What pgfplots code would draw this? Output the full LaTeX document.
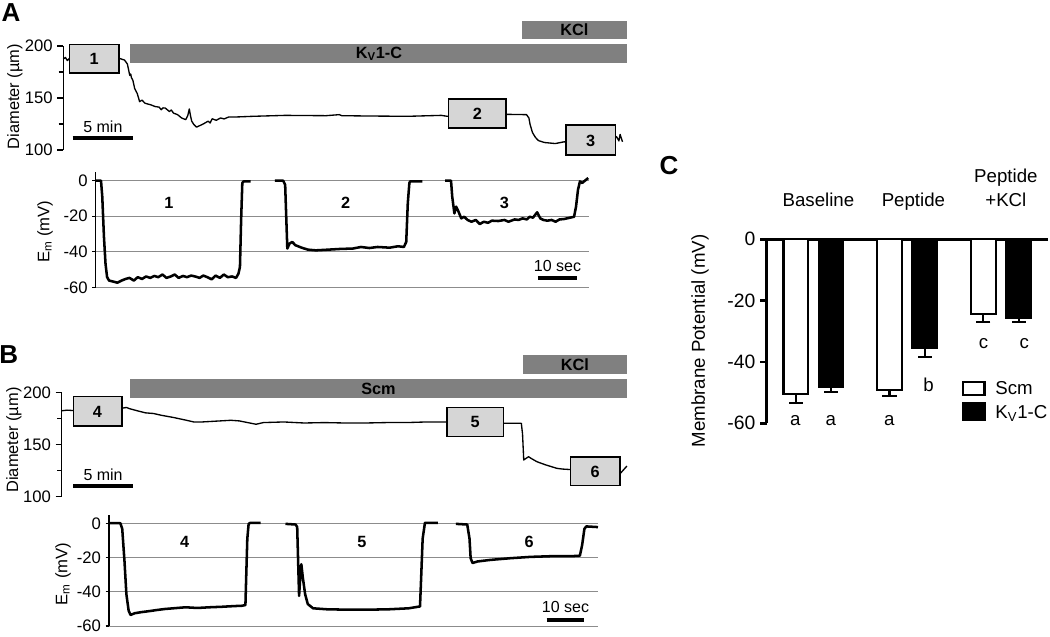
\documentclass[border=0pt]{standalone}
\usepackage{fontspec}
\setmainfont{Liberation Sans}
\usepackage{pgfplots}
\pgfplotsset{compat=1.18}
\definecolor{bargray}{RGB}{128,128,128}
\definecolor{boxgray}{RGB}{214,214,214}
\definecolor{gridgray}{RGB}{140,140,140}
\newcommand{\tickfont}{\fontsize{12.5}{14}\selectfont}
\newcommand{\lblfont}{\fontsize{12.3}{14}\selectfont}
\newcommand{\boxfont}{\fontsize{12.2}{14}\selectfont\bfseries}
\newcommand{\smallfont}{\fontsize{12}{14}\selectfont}
\newcommand{\cfont}{\fontsize{14}{16}\selectfont}
\pgfplotsset{
  diam/.style={
    anchor=south west, scale only axis, clip=false,
    xmin=0, ymin=100, ymax=200,
    axis x line=none, axis y line=left,
    axis line style={-, line width=0.9pt},
    ytick={100,150,200}, yticklabels={100,150,200}, minor ytick={125,175},
    tick align=outside, major tick length=4.5pt, minor tick length=3.5pt,
    tick style={black, line width=0.9pt},
    yticklabel style={font=\tickfont},
  },
  emax/.style={
    anchor=south west, scale only axis, clip=false,
    xmin=0, ymin=-60, ymax=5,
    axis x line=none, axis y line=left,
    axis line style={-, line width=0.8pt},
    ytick={-60,-40,-20,0}, yticklabels={-60,-40,-20,0},
    tick align=outside, major tick length=2.5pt,
    tick style={black, line width=0.8pt},
    ymajorgrids, grid style={gridgray, line width=0.7pt},
    yticklabel style={font=\tickfont},
  },
  dtrace/.style={black, line width=1pt, line join=round},
  etrace/.style={black, line width=1.9pt, line join=round},
}
\begin{document}
\begin{tikzpicture}
\useasboundingbox (0,0) rectangle (787.5pt,-477pt);
% panel letters
\node[font=\fontsize{19.5}{22}\selectfont\bfseries] at (8.25pt,-9.4pt) {A};
\node[font=\fontsize{19.5}{22}\selectfont\bfseries] at (6.6pt,-266.25pt) {B};
\node[font=\fontsize{19.5}{22}\selectfont\bfseries] at (501.75pt,-124.1pt) {C};
% y labels
\node[rotate=90, font=\lblfont] at (11.25pt,-72.4pt) {Diameter (µm)};
\node[rotate=90, font=\lblfont] at (10.5pt,-330pt) {Diameter (µm)};
\node[rotate=90, font=\fontsize{12.5}{14}\selectfont] at (33.75pt,-173.8pt) {E\textsubscript{m} (mV)};
\node[rotate=90, font=\fontsize{12.5}{14}\selectfont] at (47.25pt,-430.5pt) {E\textsubscript{m} (mV)};
\node[rotate=90, font=\cfont] at (525pt,-255.75pt) {Membrane Potential (mV)};

% ---------------- A diameter ----------------
\begin{axis}[diam, at={(47.475pt,-112.5pt)}, width=423pt, height=78pt, xmax=47]
\addplot[dtrace] coordinates {
(0,187.4) (0.17,189) (0.34,186) (0.5,188) (2.5,188) (4.6,188.4) (5.1,186.5) (5.34,182.7)
(5.54,171.7) (5.62,173) (5.68,169.5) (5.8,167) (5.95,159) (6.16,154.4) (6.36,146.5) (6.56,148)
(6.8,145) (7.3,143.4) (7.65,141.8) (7.99,141.2) (8.16,138.7) (8.3,140.5) (8.5,140.3) (8.84,137)
(9.0,138.5) (9.18,135.5) (9.52,134) (9.86,130.8) (10.2,129.2) (10.37,133) (10.5,139.5) (10.6,133)
(10.7,127.7) (10.88,124.5) (11.1,122) (11.4,123.6) (11.73,125.5) (12.07,127.7) (12.24,126) (12.4,130)
(12.75,128.6) (13.1,130.8) (13.4,129.9) (13.8,131.8) (14.5,131.8) (15.8,132.4) (18.5,133.3) (21.9,133)
(23,134) (23.2,133) (25.3,132.7) (28.7,132.4) (31.5,133.3) (32,132.4) (34,133) (36.9,134.3)
(38.6,134) (38.8,130.8) (38.9,124.5) (39.1,116.7) (39.35,112) (39.6,109) (40.1,107.2) (41,106.2)
(41.7,107.8) (43,108) (45.9,110.4) (46.1,112.9) (46.3,108.8) (46.4,115) (46.6,107.9)
};
\fill[bargray] (axis cs:5.56,183.4) rectangle (axis cs:47,201.6);
\node[font=\boxfont] at (axis cs:26.3,192.2) {K\textsubscript{V}1-C};
\fill[bargray] (axis cs:38.25,206.4) rectangle (axis cs:47,224.3);
\node[font=\boxfont] at (axis cs:42.6,215.3) {KCl};
\draw[line width=1.2pt, fill=boxgray] (axis cs:0.5,174.3) rectangle (axis cs:4.64,201.6);
\node[font=\boxfont] at (axis cs:2.57,187.5) {1};
\draw[line width=1.2pt, fill=boxgray] (axis cs:32.1,120.9) rectangle (axis cs:36.9,149);
\node[font=\boxfont] at (axis cs:34.5,134.5) {2};
\draw[line width=1.2pt, fill=boxgray] (axis cs:41.9,95.2) rectangle (axis cs:46,124);
\node[font=\boxfont] at (axis cs:43.95,109.2) {3};
\draw[line width=3pt] (axis cs:0.78,111.25) -- (axis cs:5.78,111.25);
\node[font=\smallfont] at (axis cs:3.3,122) {5 min};
\end{axis}

% ---------------- A Em ----------------
\begin{axis}[emax, at={(71.775pt,-215.475pt)}, width=369.975pt, height=86.625pt, xmax=125.5]
\addplot[etrace] coordinates {
(0,0) (1.35,0) (1.67,-8.9) (2.1,-31.6) (2.5,-46.8) (2.9,-54.3) (3.4,-56.2) (4.5,-56.8) (5.5,-57.4)
(6.6,-56.2) (7.6,-55.3) (8.6,-54.7) (9.7,-56.2) (10.7,-54.3) (11.8,-55.3) (12.8,-53.9) (13.9,-54.7)
(14.9,-53.6) (15.9,-54.3) (17,-52.8) (18,-54.7) (19.1,-53.9) (20.1,-52.8) (21.1,-54.7) (22.2,-53.6)
(23.2,-54.3) (24.3,-53.4) (25.3,-53.9) (26.4,-54.7) (27.4,-53.4) (28.4,-54.3) (29.5,-55.5) (30.5,-53.4)
(31.6,-54.7) (32.6,-52.8) (33.6,-54.3) (34.7,-53.9) (35.7,-54.7) (36.3,-52.4) (36.7,-48.6) (37,-22)
(37.3,-1.3) (37.6,-0.4) (39.4,-0.4)
};
\addplot[etrace] coordinates {
(45.6,0) (47.7,0) (48.2,-2.3) (48.5,-22) (48.75,-38.2) (49.3,-35.4) (50,-34.5) (50.8,-36.3)
(52.4,-37.7) (53.96,-38.8) (56,-39.2) (59.2,-38.8) (62.3,-38.4) (65.4,-38.2) (67.5,-37.3) (69.6,-37.9)
(71.7,-37.3) (74.8,-37.7) (76.9,-36.9) (78.4,-37.3) (79,-34.5) (79.4,-12.7) (79.8,-1.3) (80,-0.4) (83.1,-0.4)
};
\addplot[etrace] coordinates {
(88.9,0) (90.4,0) (90.7,-8.9) (91.25,-18.4) (91.7,-14.6) (92.3,-17.4) (93,-21.2) (93.75,-20.3)
(94.6,-22.1) (95.6,-23.1) (96.7,-22.1) (97.7,-24.4) (98.75,-23.1) (99.8,-23.7) (100.8,-22.5) (102.4,-22.7)
(104,-22.1) (105,-23.1) (106.6,-21.8) (107.6,-22.1) (108.6,-21.2) (109.7,-21.8) (110.4,-20.3) (111.25,-20.8)
(112.3,-17.8) (113.1,-21.2) (113.9,-22.1) (114.9,-22.5) (116,-22.1) (117,-23.1) (118,-21.8) (119.1,-21.6)
(121.7,-20.3) (122.2,-14.6) (122.7,-5.1) (123.2,-0.4) (123.75,-1.3) (124.8,0.6) (125.3,1.5)
};
\node[font=\boxfont] at (axis cs:18.6,-12.7) {1};
\node[font=\boxfont] at (axis cs:63.6,-12.7) {2};
\node[font=\boxfont] at (axis cs:104,-12.7) {3};
\draw[line width=3pt] (axis cs:112.5,-55) -- (axis cs:122.5,-55);
\node[font=\smallfont] at (axis cs:117.5,-48) {10 sec};
\end{axis}

% ---------------- B diameter ----------------
\begin{axis}[diam, at={(46.275pt,-372.525pt)}, width=424.2pt, height=78.3pt, xmax=47.13]
\addplot[dtrace] coordinates {
(0,182.3) (0.44,182.9) (1,182.5) (3,182.8) (4.9,184.5) (5.4,185.5) (5.6,184.5) (6.3,182.3)
(7,180.3) (7.65,179.7) (8.3,178) (9.35,175.8) (10.4,173.2) (11,171.6) (11.7,171.6) (12.75,172.3)
(14.1,173.2) (14.8,172.6) (15.5,171) (16.2,169.4) (16.8,171) (18.5,171.6) (20.2,170.6) (21.9,171)
(23.6,170.6) (25.3,170.6) (27,171) (28.7,171) (30.4,171.6) (31.8,171.6) (34,171.2) (36.8,170.3)
(38.3,170.3) (38.4,160) (38.5,135.2) (38.6,136) (38.9,138.3) (39.1,136.8) (39.6,133.5) (40.3,130.6)
(41.25,127.2) (41.7,126.5) (42.4,126) (44,126) (46.5,121.7) (47.1,129.4)
};
\fill[bargray] (axis cs:5.7,194.3) rectangle (axis cs:47.13,212.5);
\node[font=\boxfont] at (axis cs:26.4,203.2) {Scm};
\fill[bargray] (axis cs:38.4,217.5) rectangle (axis cs:47.13,235.7);
\node[font=\boxfont] at (axis cs:42.77,226.4) {KCl};
\draw[line width=1.2pt, fill=boxgray] (axis cs:0.97,168) rectangle (axis cs:5.0,195.8);
\node[font=\boxfont] at (axis cs:2.98,181.5) {4};
\draw[line width=1.2pt, fill=boxgray] (axis cs:32.1,157.5) rectangle (axis cs:36.8,185.6);
\node[font=\boxfont] at (axis cs:34.45,171.2) {5};
\draw[line width=1.2pt, fill=boxgray] (axis cs:42.4,110.9) rectangle (axis cs:46.5,138.3);
\node[font=\boxfont] at (axis cs:44.45,124.2) {6};
\draw[line width=3pt] (axis cs:0.97,110.3) -- (axis cs:5.92,110.3);
\node[font=\smallfont] at (axis cs:3.45,121.3) {5 min};
\end{axis}

% ---------------- B Em ----------------
\begin{axis}[emax, at={(81.75pt,-469.5pt)}, width=366.75pt, height=83pt, xmax=129.4]
\addplot[etrace] coordinates {
(0.3,0.4) (3,0.4) (3.5,-2.9) (4.1,-22) (4.6,-41.3) (5.2,-51) (5.7,-53.5) (6.8,-52.5) (8.4,-51.9)
(10.5,-51.3) (12.7,-50.6) (14.8,-50) (17,-49.6) (20.2,-49) (23.4,-49.4) (26.6,-49) (29.9,-48.7)
(33.1,-48.3) (35.2,-48.1) (36.1,-47.7) (36.3,-31.7) (36.6,-8.7) (36.95,0) (37.4,0.6) (40.1,0.6)
};
\addplot[etrace] coordinates {
(46.7,0) (49.4,-0.4) (49.8,-1.9) (50.05,-22) (50.3,-42.3) (50.6,-31.7) (50.9,-23.7) (51.3,-31.7)
(51.9,-41.3) (52.6,-47.1) (54,-49.6) (57.8,-50.2) (63.2,-50.4) (68.5,-50.4) (73.9,-50.2) (79.3,-49.6)
(82.3,-48.5) (82.6,-31.7) (83,-8.7) (83.6,0.6) (87,0.6)
};
\addplot[etrace] coordinates {
(91.8,0) (94.8,-0.4) (95.4,-8.7) (95.7,-20.2) (96.2,-23) (97.5,-22.1) (100.8,-21.2) (106.1,-20.2)
(111.5,-19.4) (116.9,-19) (122.2,-19) (124.6,-18.7) (125.2,-12.5) (125.8,-2.9) (126.3,-1.5) (129.4,-1.9)
};
\node[font=\boxfont] at (axis cs:20,-10.4) {4};
\node[font=\boxfont] at (axis cs:66.9,-10.4) {5};
\node[font=\boxfont] at (axis cs:111.2,-10.4) {6};
\draw[line width=3pt] (axis cs:115.8,-56.7) -- (axis cs:125.8,-56.7);
\node[font=\smallfont] at (axis cs:120.8,-48.6) {10 sec};
\end{axis}

% ---------------- C bar chart ----------------
\begin{axis}[anchor=south west, at={(575.025pt,-317.475pt)}, scale only axis,
  width=210.975pt, height=138pt, clip=false,
  xmin=-0.4966, xmax=2.501, ymin=-60, ymax=0,
  axis x line=top, axis y line=left, axis line style={-, line width=2pt},
  xtick=\empty, ytick={-60,-40,-20,0}, yticklabels={-60,-40,-20,0},
  tick align=outside, major tick length=5pt, tick style={black, line width=2pt},
  yticklabel style={font=\fontsize{14.5}{16}\selectfont},
]
\addplot[ybar, bar width=0.261, bar shift=0pt, fill=white, draw=black, line width=1.6pt,
  error bars/.cd, y dir=minus, y explicit,
  error bar style={line width=1.6pt, black},
  error mark options={rotate=90, mark size=5.3pt, line width=1.6pt, black}]
  coordinates {(-0.1875,-50.5) +- (0,3.0) (0.8125,-49.1) +- (0,2.0) (1.8125,-24.4) +- (0,2.5)};
\addplot[ybar, bar width=0.261, bar shift=0pt, fill=black, draw=black, line width=1.6pt,
  error bars/.cd, y dir=minus, y explicit,
  error bar style={line width=1.6pt, black},
  error mark options={rotate=90, mark size=5.3pt, line width=1.6pt, black}]
  coordinates {(0.1875,-48.3) +- (0,1.6) (1.1875,-35.5) +- (0,3.0) (2.1875,-25.6) +- (0,1.3)};
% category labels
\node[font=\cfont, anchor=base] at (axis cs:0.055,10.56) {Baseline};
\node[font=\cfont, anchor=base] at (axis cs:1.067,10.56) {Peptide};
\node[font=\cfont, anchor=base] at (axis cs:2.052,18.4) {Peptide};
\node[font=\cfont, anchor=base] at (axis cs:2.052,10.56) {+KCl};
% significance letters
\node[font=\fontsize{14}{16}\selectfont, anchor=base] at (axis cs:-0.193,-60.65) {a};
\node[font=\fontsize{14}{16}\selectfont, anchor=base] at (axis cs:0.187,-60.65) {a};
\node[font=\fontsize{14}{16}\selectfont, anchor=base] at (axis cs:0.811,-60.65) {a};
\node[font=\fontsize{14}{16}\selectfont, anchor=base] at (axis cs:1.227,-49.6) {b};
\node[font=\fontsize{14}{16}\selectfont, anchor=base] at (axis cs:1.813,-35.7) {c};
\node[font=\fontsize{14}{16}\selectfont, anchor=base] at (axis cs:2.247,-35.7) {c};
% legend
\draw[line width=1.6pt, fill=white] (axis cs:1.594,-46.4) rectangle (axis cs:1.824,-50.8);
\draw[line width=1.6pt, fill=black] (axis cs:1.594,-53.5) rectangle (axis cs:1.824,-58.9);
\node[font=\cfont, anchor=base west, inner sep=0pt] at (axis cs:1.938,-50.7) {Scm};
\node[font=\cfont, anchor=base west, inner sep=0pt] at (axis cs:1.938,-58.4) {K\textsubscript{V}1-C};
\end{axis}
\end{tikzpicture}
\end{document}
